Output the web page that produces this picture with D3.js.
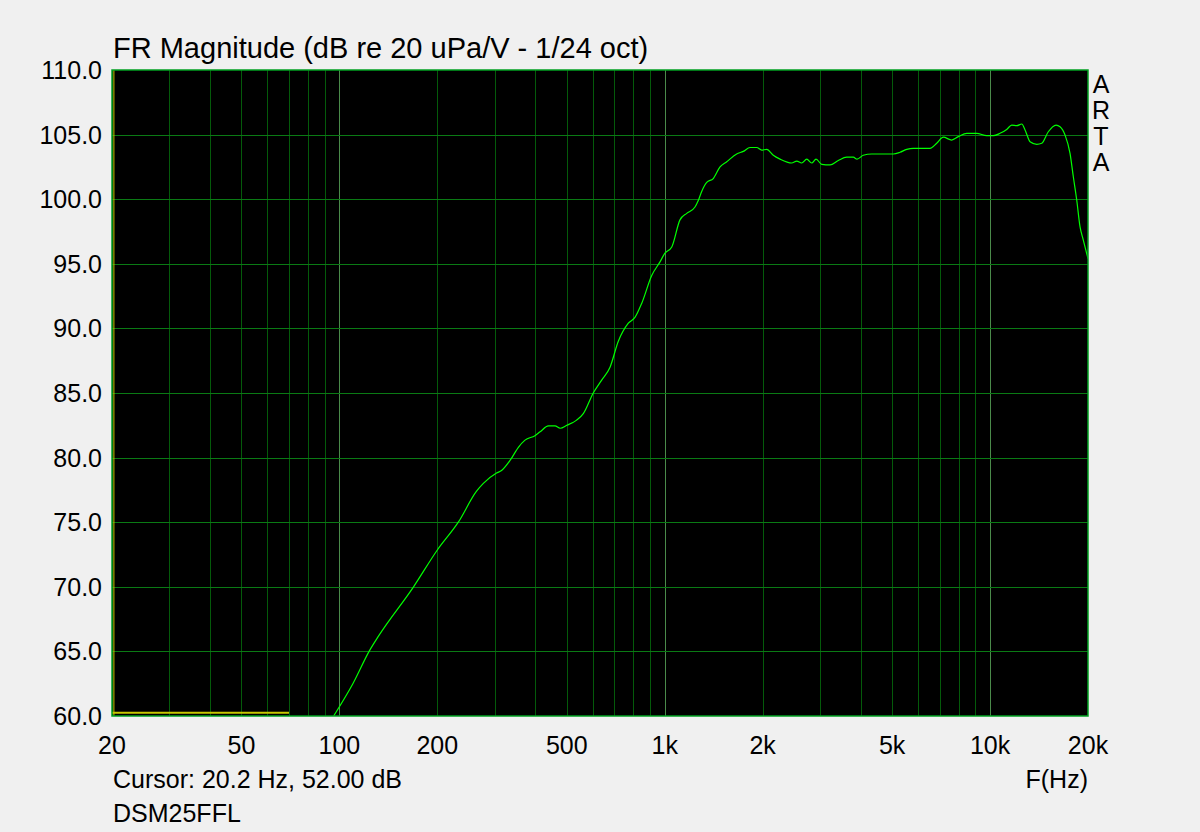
<!DOCTYPE html>
<html>
<head>
<meta charset="utf-8">
<script src="https://cdn.jsdelivr.net/npm/d3@7"></script>
<style>
  body { margin: 0; background: #f0f0f0; }
  text { font-family: "Liberation Sans", Arial, sans-serif; fill: #000; }
</style>
</head>
<body>
<script>
// Frequency response (Hz, dB)
var freqs = [96, 110, 124, 132, 169, 200, 232, 264, 277, 304, 315, 335, 355, 372, 399, 414,
  439, 460, 477, 500, 536, 562, 603, 640, 679, 720, 773, 810, 850, 912, 967, 1000, 1051,
  1114, 1168, 1239, 1268, 1299, 1346, 1410, 1479, 1551, 1664, 1744, 1829, 1918, 1986, 2058,
  2156, 2262, 2456, 2546, 2636, 2732, 2830, 2918, 3038, 3222, 3416, 3626, 3800, 3900, 4076,
  4326, 4590, 5042, 5286, 5544, 5808, 6537, 6855, 7184, 7621, 7989, 8478, 9099, 9766, 10234,
  10730, 11250, 11658, 12078, 12513, 12810, 13272, 13914, 14414, 15102, 15950, 16408, 16998,
  17612, 18026, 18466, 18900, 19346, 20000];
var levels = [60.0, 62.5, 65.1, 66.2, 70.0, 72.85, 75.0, 77.4, 78.0, 78.8, 79.0, 79.8, 80.8, 81.35, 81.7, 82.0,
  82.45, 82.45, 82.27, 82.5, 82.9, 83.4, 85.0, 86.0, 87.0, 89.0, 90.4, 90.85, 91.95, 94.1, 95.15, 95.8, 96.3,
  98.4, 98.9, 99.4, 99.9, 100.6, 101.3, 101.6, 102.5, 102.9, 103.5, 103.7, 104.0, 104.0, 103.8, 103.85,
  103.4, 103.1, 102.8, 102.95, 102.8, 103.1, 102.8, 103.1, 102.7, 102.65, 103.0, 103.25, 103.25, 103.1, 103.4,
  103.5, 103.5, 103.5, 103.63, 103.86, 103.94, 103.94, 104.33, 104.8, 104.58, 104.84, 105.1, 105.1, 104.92, 104.92,
  105.1, 105.4, 105.74, 105.69, 105.82, 105.36, 104.45, 104.25, 104.33, 105.22, 105.74, 105.61, 104.97,
  103.55, 101.74, 99.94, 97.87, 96.84, 95.4];

// cursor trace (yellow) at the bottom
var cursorFreqs = [20, 70];
var cursorLevels = [60.25, 60.25];

var xTicks = [20, 50, 100, 200, 500, 1000, 2000, 5000, 10000, 20000];
var xTickLabels = ["20", "50", "100", "200", "500", "1k", "2k", "5k", "10k", "20k"];
var yTicks = d3.range(60, 110.1, 5);
var decades = [100, 1000, 10000];

var width = 1200,
    height = 832;
var plotLeft = 112, plotRight = 1088, plotTop = 70, plotBottom = 716;

var x = d3.scaleLog().domain([20, 20000]).range([plotLeft, plotRight]);
var y = d3.scaleLinear().domain([60, 110]).range([plotBottom, plotTop]);

var svg = d3.select("body").append("svg")
    .attr("width", width)
    .attr("height", height);

svg.append("rect")
    .attr("x", plotLeft).attr("y", plotTop)
    .attr("width", plotRight - plotLeft).attr("height", plotBottom - plotTop)
    .attr("fill", "#000");

// minor vertical grid: every 1..9 x decade
var minor = [];
[10, 100, 1000, 10000].forEach(function(d) {
  for (var k = 1; k <= 9; k++) {
    var f = d * k;
    if (f > 20 && f < 20000 && decades.indexOf(f) < 0) minor.push(f);
  }
});

svg.append("g").selectAll("line")
    .data(minor).enter().append("line")
    .attr("x1", d => Math.round(x(d)) + 0.5).attr("x2", d => Math.round(x(d)) + 0.5)
    .attr("y1", plotTop).attr("y2", plotBottom)
    .attr("stroke", "#045a0a").attr("stroke-width", 1);

svg.append("g").selectAll("line")
    .data(decades).enter().append("line")
    .attr("x1", d => Math.round(x(d)) + 0.5).attr("x2", d => Math.round(x(d)) + 0.5)
    .attr("y1", plotTop).attr("y2", plotBottom)
    .attr("stroke", "#4a8a4a").attr("stroke-width", 1);

svg.append("g").selectAll("line")
    .data(yTicks.slice(1, -1)).enter().append("line")
    .attr("x1", plotLeft).attr("x2", plotRight)
    .attr("y1", d => Math.round(y(d)) + 0.5).attr("y2", d => Math.round(y(d)) + 0.5)
    .attr("stroke", "#0a7a14").attr("stroke-width", 1);

svg.append("defs").append("clipPath").attr("id", "clip")
  .append("rect")
    .attr("x", plotLeft).attr("y", plotTop)
    .attr("width", plotRight - plotLeft).attr("height", plotBottom - plotTop);

// yellow cursor trace + cursor line
svg.append("path")
    .datum(d3.zip(cursorFreqs, cursorLevels))
    .attr("d", d3.line().x(d => x(d[0])).y(d => y(d[1])))
    .attr("stroke", "#c8c800").attr("stroke-width", 2).attr("fill", "none");

svg.append("line")
    .attr("x1", x(20.2) + 0.5).attr("x2", x(20.2) + 0.5)
    .attr("y1", plotTop).attr("y2", plotBottom)
    .attr("stroke", "#c8c800").attr("stroke-width", 1);

var line = d3.line()
    .x(d => x(d[0]))
    .y(d => y(d[1]))
    .curve(d3.curveMonotoneX);

svg.append("path")
    .datum(d3.zip(freqs, levels))
    .attr("clip-path", "url(#clip)")
    .attr("d", line)
    .attr("stroke", "#00ff00").attr("stroke-width", 1.2).attr("fill", "none");

// frame
svg.append("rect")
    .attr("x", plotLeft).attr("y", plotTop)
    .attr("width", plotRight - plotLeft).attr("height", plotBottom - plotTop)
    .attr("fill", "none").attr("stroke", "#00a020").attr("stroke-width", 1.5);

// y labels
svg.append("g").selectAll("text")
    .data(yTicks).enter().append("text")
    .attr("x", 102).attr("y", d => y(d) + 9)
    .attr("text-anchor", "end")
    .attr("font-size", "25px")
    .text(d => d.toFixed(1));

// x labels
svg.append("g").selectAll("text")
    .data(xTicks).enter().append("text")
    .attr("x", d => x(d)).attr("y", 754)
    .attr("text-anchor", "middle")
    .attr("font-size", "25px")
    .text((d, i) => xTickLabels[i]);

svg.append("text")
    .attr("x", 113).attr("y", 58)
    .attr("font-size", "29px")
    .text("FR Magnitude (dB re 20 uPa/V - 1/24 oct)");

svg.append("text")
    .attr("x", 113).attr("y", 788)
    .attr("font-size", "25px")
    .text("Cursor: 20.2 Hz, 52.00 dB");

svg.append("text")
    .attr("x", 113).attr("y", 822)
    .attr("font-size", "25px")
    .text("DSM25FFL");

svg.append("text")
    .attr("x", 1088).attr("y", 788)
    .attr("text-anchor", "end")
    .attr("font-size", "25px")
    .text("F(Hz)");

svg.append("g").selectAll("text")
    .data(["A", "R", "T", "A"]).enter().append("text")
    .attr("x", 1101).attr("y", (d, i) => 93 + i * 26)
    .attr("text-anchor", "middle")
    .attr("font-size", "25px")
    .text(d => d);
</script>
</body>
</html>
